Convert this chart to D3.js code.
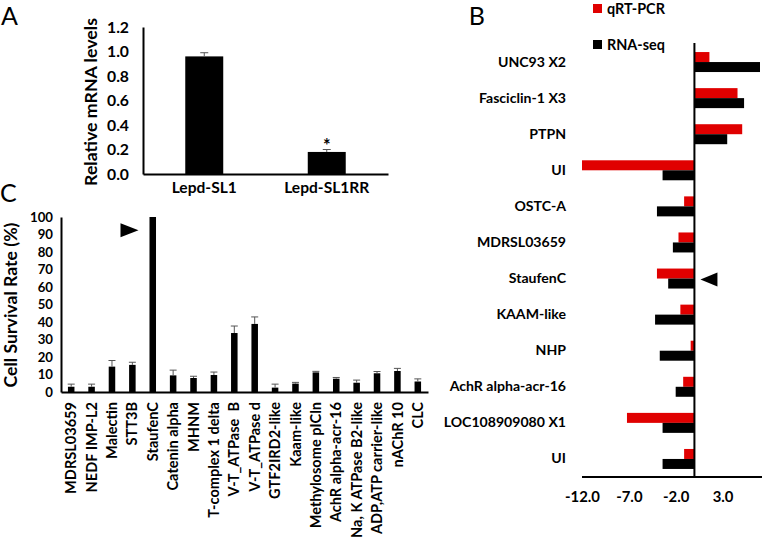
<!DOCTYPE html>
<html><head><meta charset="utf-8">
<script src="https://cdn.jsdelivr.net/npm/d3@7"></script>
<style>
body{margin:0;background:#fff;}
svg{display:block;}
text{font-family:Lato,"Open Sans",sans-serif;fill:#000;}
</style></head>
<body>
<svg id="chart" width="762" height="546"></svg>
<script>
// ---- Panel A data ----
const aCategories = ["Lepd-SL1", "Lepd-SL1RR"];
const aValues = [0.96, 0.18];
const aErrors = [0.03, 0.02];
const aTicks = [0, 0.2, 0.4, 0.6, 0.8, 1.0, 1.2];

// ---- Panel B data ----
const bCategories = ["UNC93 X2", "Fasciclin-1 X3", "PTPN", "UI", "OSTC-A", "MDRSL03659",
  "StaufenC", "KAAM-like", "NHP", "AchR alpha-acr-16", "LOC108909080 X1", "UI"];
const bQrtPcr = [1.6, 4.6, 5.1, -12.0, -1.1, -1.7, -4.0, -1.5, -0.4, -1.2, -7.2, -1.1];
const bRnaSeq = [7.0, 5.3, 3.5, -3.4, -4.0, -2.3, -2.8, -4.2, -3.7, -2.0, -3.4, -3.4];
const bSeries = ["qRT-PCR", "RNA-seq"];
const bTicks = [-12, -7, -2, 3];

// ---- Panel C data ----
const cCategories = ["MDRSL03659", "NEDF IMP-L2", "Malectin", "STT3B", "StaufenC", "Catenin alpha",
  "MHNM", "T-complex 1 delta", "V-T_ATPase  B", "V-T_ATPase d", "GTF2IRD2-like", "Kaam-like",
  "Methylosome pICln", "AchR alpha-acr-16", "Na, K ATPase B2-like", "ADP,ATP carrier-like",
  "nAChR 10", "CLC"];
const cValues = [3, 3, 14.5, 15.5, 100, 9.5, 8, 9.7, 33.7, 38.9, 2.5, 4.8, 11.2, 7.6, 5.3, 10.7, 12, 6];
const cErrors = [1.5, 1.5, 3.5, 1.5, 0, 3, 1, 1.7, 4, 4, 2, 0.7, 0.6, 0.7, 1.5, 1, 1.5, 1.5];
const cTicks = [0, 10, 20, 30, 40, 50, 60, 70, 80, 90, 100];

const RED = "#e00000";
const svg = d3.select("#chart");
svg.append("rect").attr("width", 762).attr("height", 546).attr("fill", "#fff");

// font size that gives a sample text a wanted width
function fit(samples, weight) {
  const sizes = samples.map(([txt, w]) => {
    const t = svg.append("text").attr("font-size", 100).attr("font-weight", weight || "bold")
      .style("white-space", "pre").text(txt);
    const len = t.node().getComputedTextLength();
    t.remove();
    return 100 * w / len;
  });
  return d3.mean(sizes);
}
const fsATick = fit([["1.2", 22], ["0.0", 22]]);
const fsACat = fit([["Lepd-SL1RR", 88], ["Lepd-SL1", 63]]);
const fsATitle = fit([["Relative mRNA levels", 168]]);
const fsBCat = fit([["UNC93 X2", 68], ["KAAM-like", 72], ["OSTC-A", 50]]);
const fsBTick = fit([["-12.0", 35]]);
const fsBLeg = fit([["qRT-PCR", 58], ["RNA-seq", 58]]);
const fsCTick = fit([["100", 23]]);
const fsCCat = Math.min(
  fit([["MDRSL03659", 90], ["Methylosome pICln", 139], ["Catenin alpha", 102]]),
  fit([["Na, K ATPase B2-like", 136]]));
const fsCTitle = fit([["Cell Survival Rate (%)", 165]]);

function styleAxis(g, size) {
  g.select(".domain").attr("stroke", "#000").attr("stroke-width", 2);
  g.selectAll(".tick line").remove();
  g.selectAll("text").attr("font-family", "Lato, 'Open Sans', sans-serif")
    .attr("font-weight", "bold").attr("font-size", size).attr("fill", "#000");
}

// ================= Panel A =================
const yA = d3.scaleLinear().domain([0, 1.2]).range([174, 27]);
const xA = d3.scaleBand().domain(aCategories).range([143, 388]).paddingInner(0.69).paddingOuter(0.345);

svg.append("text").attr("x", 1).attr("y", 24.5).attr("font-size", 25).text("A");

const gA = svg.append("g");
gA.selectAll("rect.bar").data(aCategories).join("rect")
  .attr("x", d => xA(d)).attr("width", xA.bandwidth())
  .attr("y", (d, i) => yA(aValues[i])).attr("height", (d, i) => yA(0) - yA(aValues[i]))
  .attr("fill", "#000");
gA.selectAll("g.err").data(aCategories).join("g").each(function(d, i) {
  const cx = xA(d) + xA.bandwidth() / 2;
  const g = d3.select(this);
  g.append("line").attr("x1", cx).attr("x2", cx).attr("y1", yA(aValues[i])).attr("y2", yA(aValues[i] + aErrors[i]))
    .attr("stroke", "#555").attr("stroke-width", 1);
  g.append("line").attr("x1", cx - 4).attr("x2", cx + 4).attr("y1", yA(aValues[i] + aErrors[i])).attr("y2", yA(aValues[i] + aErrors[i]))
    .attr("stroke", "#555").attr("stroke-width", 1);
});
gA.append("text").attr("x", xA("Lepd-SL1RR") + xA.bandwidth() / 2).attr("y", yA(0.18 + 0.02) + 2)
  .attr("text-anchor", "middle").attr("font-size", 18).attr("font-weight", "bold").text("*");

gA.append("g").attr("transform", "translate(143,0)")
  .call(d3.axisLeft(yA).tickValues(aTicks).tickSize(0).tickSizeOuter(0).tickPadding(14).tickFormat(d => d.toFixed(1)))
  .call(g => styleAxis(g, fsATick));
gA.append("g").attr("transform", "translate(0,174)")
  .call(d3.axisBottom(xA).tickSize(0).tickSizeOuter(0).tickPadding(8))
  .call(g => styleAxis(g, fsACat));
gA.append("text").attr("transform", "translate(97,102) rotate(-90)").attr("text-anchor", "middle")
  .attr("font-size", fsATitle).attr("font-weight", "bold").text("Relative mRNA levels");

// ================= Panel B =================
const yB = d3.scaleBand().domain(d3.range(bCategories.length)).range([44, 477]).paddingInner(0.446).paddingOuter(0.223);
const xB = d3.scaleLinear().domain([-12, 7]).range([582, 760]);
const subB = d3.scaleBand().domain(bSeries).range([0, yB.bandwidth()]);

svg.append("text").attr("x", 485).attr("y", 24.5).attr("text-anchor", "end").attr("font-size", 25).text("B");

const gB = svg.append("g");
const bRows = d3.range(bCategories.length).map(i => [
  {s: "qRT-PCR", v: bQrtPcr[i], i}, {s: "RNA-seq", v: bRnaSeq[i], i}]).flat();
gB.selectAll("rect.bar").data(bRows).join("rect")
  .attr("y", d => yB(d.i) + subB(d.s)).attr("height", subB.bandwidth())
  .attr("x", d => xB(Math.min(0, d.v))).attr("width", d => Math.abs(xB(d.v) - xB(0)))
  .attr("fill", d => d.s === "qRT-PCR" ? RED : "#000");

gB.append("g").attr("transform", `translate(${xB(0)},0)`)
  .call(d3.axisLeft(yB).tickSize(0).tickSizeOuter(0).tickPadding(xB(0) - 566).tickFormat(i => bCategories[i]))
  .call(g => styleAxis(g, fsBCat))
  .call(g => g.select(".domain").attr("d", `M0,43V477`));
gB.append("g").attr("transform", "translate(0,477)")
  .call(d3.axisBottom(xB).tickValues(bTicks).tickSize(0).tickSizeOuter(0).tickPadding(14).tickFormat(d => d.toFixed(1)))
  .call(g => styleAxis(g, fsBTick))
  .call(g => g.select(".domain").attr("d", `M582,0H762`));

// legend
const legB = svg.append("g");
bSeries.forEach((s, k) => {
  const y0 = k === 0 ? 4 : 40;
  legB.append("rect").attr("x", 593).attr("y", y0).attr("width", 9).attr("height", 9)
    .attr("fill", s === "qRT-PCR" ? RED : "#000");
  legB.append("text").attr("x", 607).attr("y", y0 + 5).attr("dy", "0.35em")
    .attr("font-size", fsBLeg).attr("font-weight", "bold").text(s);
});
// arrow in B pointing to StaufenC
{
  const ay = yB(6) + yB.bandwidth() / 2 + 1;
  const ax = xB(0) + 6;
  svg.append("path").attr("d", `M${ax},${ay}L${ax + 17},${ay - 7}L${ax + 17},${ay + 7}Z`).attr("fill", "#000");
}

// ================= Panel C =================
const yC = d3.scaleLinear().domain([0, 100]).range([392, 217]);
const xC = d3.scaleBand().domain(cCategories).range([61, 428]).paddingInner(0.68).paddingOuter(0.34);

svg.append("text").attr("x", 0).attr("y", 202).attr("font-size", 25).text("C");

const gC = svg.append("g");
gC.selectAll("rect.bar").data(cCategories).join("rect")
  .attr("x", d => xC(d)).attr("width", xC.bandwidth())
  .attr("y", (d, i) => yC(cValues[i])).attr("height", (d, i) => yC(0) - yC(cValues[i]))
  .attr("fill", "#000");
gC.selectAll("g.err").data(cCategories).join("g").each(function(d, i) {
  if (!cErrors[i]) return;
  const cx = xC(d) + xC.bandwidth() / 2;
  const top = yC(cValues[i] + cErrors[i]);
  const g = d3.select(this);
  g.append("line").attr("x1", cx).attr("x2", cx).attr("y1", yC(cValues[i])).attr("y2", top)
    .attr("stroke", "#555").attr("stroke-width", 1);
  g.append("line").attr("x1", cx - 3.5).attr("x2", cx + 3.5).attr("y1", top).attr("y2", top)
    .attr("stroke", "#555").attr("stroke-width", 1);
});

gC.append("g").attr("transform", "translate(61,0)")
  .call(d3.axisLeft(yC).tickValues(cTicks).tickSize(0).tickSizeOuter(0).tickPadding(8))
  .call(g => styleAxis(g, fsCTick));
gC.append("g").attr("transform", "translate(0,392)")
  .call(d3.axisBottom(xC).tickSize(0).tickSizeOuter(0))
  .call(g => styleAxis(g, fsCCat))
  .call(g => g.selectAll("text").attr("transform", "rotate(-90)").attr("x", -10).attr("y", 0)
    .attr("dy", "0.35em").attr("text-anchor", "end").style("white-space", "pre"));
gC.append("text").attr("transform", "translate(17,305) rotate(-90)").attr("text-anchor", "middle")
  .attr("font-size", fsCTitle).attr("font-weight", "bold").text("Cell Survival Rate (%)");
// arrow in C pointing to StaufenC
{
  const ax = xC("StaufenC") - 11;
  const ay = yC(92.5);
  svg.append("path").attr("d", `M${ax},${ay}L${ax - 18},${ay - 7}L${ax - 18},${ay + 7}Z`).attr("fill", "#000");
}
</script>
</body></html>
